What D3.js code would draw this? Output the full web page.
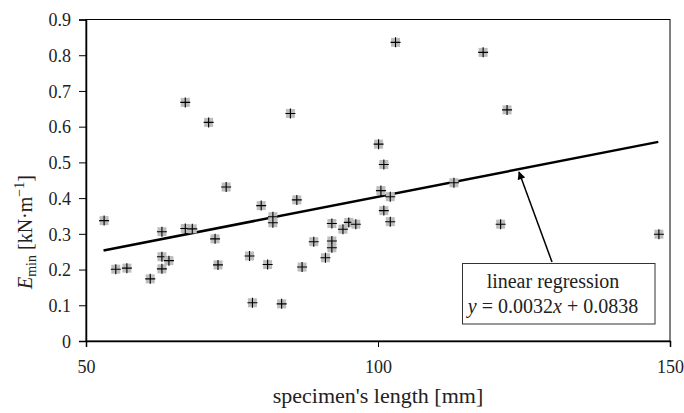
<!DOCTYPE html>
<html>
<head>
<meta charset="utf-8">
<script src="https://cdn.jsdelivr.net/npm/d3@7"></script>
<style>
  body { margin: 0; background: #fff; }
</style>
</head>
<body>
<div id="chart"></div>
<script>
// measured specimens: length [mm] and E_min [kN/m]
const lengths = [53.1, 55.1, 57.0, 61.0, 63.0, 63.0, 63.0, 64.2, 67.0, 67.0, 68.2, 71.0,
  72.1, 72.6, 74.0, 78.0, 78.5, 80.0, 81.1, 82.0, 82.0, 83.5, 85.0, 86.1, 87.0, 89.0,
  91.0, 92.1, 92.1, 92.1, 94.0, 95.0, 96.2, 100.1, 100.5, 101.0, 101.0, 102.1, 102.1,
  103.0, 113.0, 118.0, 121.0, 122.1, 148.1];
const eMin = [0.337, 0.201, 0.204, 0.174, 0.306, 0.236, 0.202, 0.225, 0.668, 0.315, 0.314, 0.612,
  0.286, 0.213, 0.431, 0.238, 0.107, 0.379, 0.214, 0.348, 0.331, 0.104, 0.637, 0.395, 0.207, 0.278,
  0.233, 0.329, 0.280, 0.261, 0.313, 0.332, 0.327, 0.551, 0.421, 0.494, 0.365, 0.404, 0.334,
  0.836, 0.443, 0.808, 0.327, 0.647, 0.299];
const regSlope = 0.0032, regIntercept = 0.0838;
const regRange = [53, 148];
const xTicks = [50, 100, 150];
const yTicks = [0, 0.1, 0.2, 0.3, 0.4, 0.5, 0.6, 0.7, 0.8, 0.9];

const FONT = "Liberation Serif";
const width = 684, height = 413;
const margin = { top: 19.5, right: 14, bottom: 72, left: 86 };

const svg = d3.select("#chart").append("svg")
  .attr("width", width)
  .attr("height", height)
  .attr("font-family", FONT);

const x = d3.scaleLinear().domain([50, 150]).range([margin.left, width - margin.right]);
const y = d3.scaleLinear().domain([0, 0.9]).range([height - margin.bottom, margin.top]);

// frame (top and right)
svg.append("rect")
  .attr("x", x(50)).attr("y", y(0.9))
  .attr("width", x(150) - x(50)).attr("height", y(0) - y(0.9))
  .attr("fill", "none").attr("stroke", "#000").attr("stroke-width", 1);

const xAxis = svg.append("g")
  .attr("transform", `translate(0,${y(0)})`)
  .call(d3.axisBottom(x).tickValues(xTicks).tickSize(6).tickPadding(13).tickFormat(d3.format("d")));
const yAxis = svg.append("g")
  .attr("transform", `translate(${x(50)},0)`)
  .call(d3.axisLeft(y).tickValues(yTicks).tickSize(7).tickPadding(8).tickFormat(d => d === 0 ? "0" : d3.format(".1f")(d)));

[xAxis, yAxis].forEach(g => {
  g.attr("font-family", FONT).attr("font-size", 18);
  g.select(".domain").attr("stroke", "#000").attr("stroke-width", 1.5);
  g.selectAll(".tick line").attr("stroke", "#000");
  g.selectAll(".tick text").attr("fill", "#222").attr("font-family", FONT);
});
yAxis.selectAll(".tick text").attr("dy", "0.35em");

// regression line
svg.append("line")
  .attr("x1", x(regRange[0])).attr("y1", y(regSlope * regRange[0] + regIntercept))
  .attr("x2", x(regRange[1])).attr("y2", y(regSlope * regRange[1] + regIntercept))
  .attr("stroke", "#000").attr("stroke-width", 2.5);

// points
const pts = svg.append("g").selectAll("g")
  .data(lengths.map((l, i) => ({ l, e: eMin[i] })))
  .join("g")
  .attr("transform", d => `translate(${x(d.l)},${y(d.e)})`);
pts.append("rect")
  .attr("x", -4.5).attr("y", -4.5).attr("width", 9).attr("height", 9)
  .attr("fill", "#bdbdbd");
pts.append("path")
  .attr("d", "M-5,0H5M0,-5V5")
  .attr("stroke", "#000").attr("stroke-width", 1.1);

// annotation
svg.append("defs").append("marker")
  .attr("id", "arrow").attr("viewBox", "0 0 10 10")
  .attr("refX", 9).attr("refY", 5)
  .attr("markerWidth", 9).attr("markerHeight", 8)
  .attr("markerUnits", "userSpaceOnUse")
  .attr("orient", "auto")
  .append("path").attr("d", "M0,0L10,5L0,10z").attr("fill", "#000");

svg.append("line")
  .attr("x1", 552).attr("y1", 262).attr("x2", 519).attr("y2", 172)
  .attr("stroke", "#000").attr("stroke-width", 1.5)
  .attr("marker-end", "url(#arrow)");

svg.append("rect")
  .attr("x", 462.5).attr("y", 263.5).attr("width", 192.5).attr("height", 60.5)
  .attr("fill", "#fff").attr("stroke", "#333").attr("stroke-width", 1);

svg.append("text")
  .attr("x", 553).attr("y", 288).attr("text-anchor", "middle")
  .attr("font-family", FONT).attr("font-size", 20).attr("fill", "#222")
  .text("linear regression");
const eq = svg.append("text")
  .attr("x", 553).attr("y", 313).attr("text-anchor", "middle")
  .attr("font-family", FONT).attr("font-size", 20).attr("fill", "#222");
eq.append("tspan").attr("font-style", "italic").text("y");
eq.append("tspan").text(" = 0.0032");
eq.append("tspan").attr("font-style", "italic").text("x");
eq.append("tspan").text(" + 0.0838");

// axis titles
svg.append("text")
  .attr("x", x(100)).attr("y", 403).attr("text-anchor", "middle")
  .attr("font-family", FONT).attr("font-size", 22).attr("fill", "#222")
  .text("specimen's length [mm]");

const yl = svg.append("text")
  .attr("transform", `translate(32,${y(0.305)}) rotate(-90)`)
  .attr("text-anchor", "middle")
  .attr("font-family", FONT).attr("font-size", 20).attr("fill", "#222");
yl.append("tspan").attr("font-style", "italic").text("E");
yl.append("tspan").attr("dy", 4).attr("font-size", 14).text("min");
yl.append("tspan").attr("dy", -4).text(" [kN·m");
yl.append("tspan").attr("dy", -8).attr("font-size", 14).text("−1");
yl.append("tspan").attr("dy", 8).text("]");
</script>
</body>
</html>
